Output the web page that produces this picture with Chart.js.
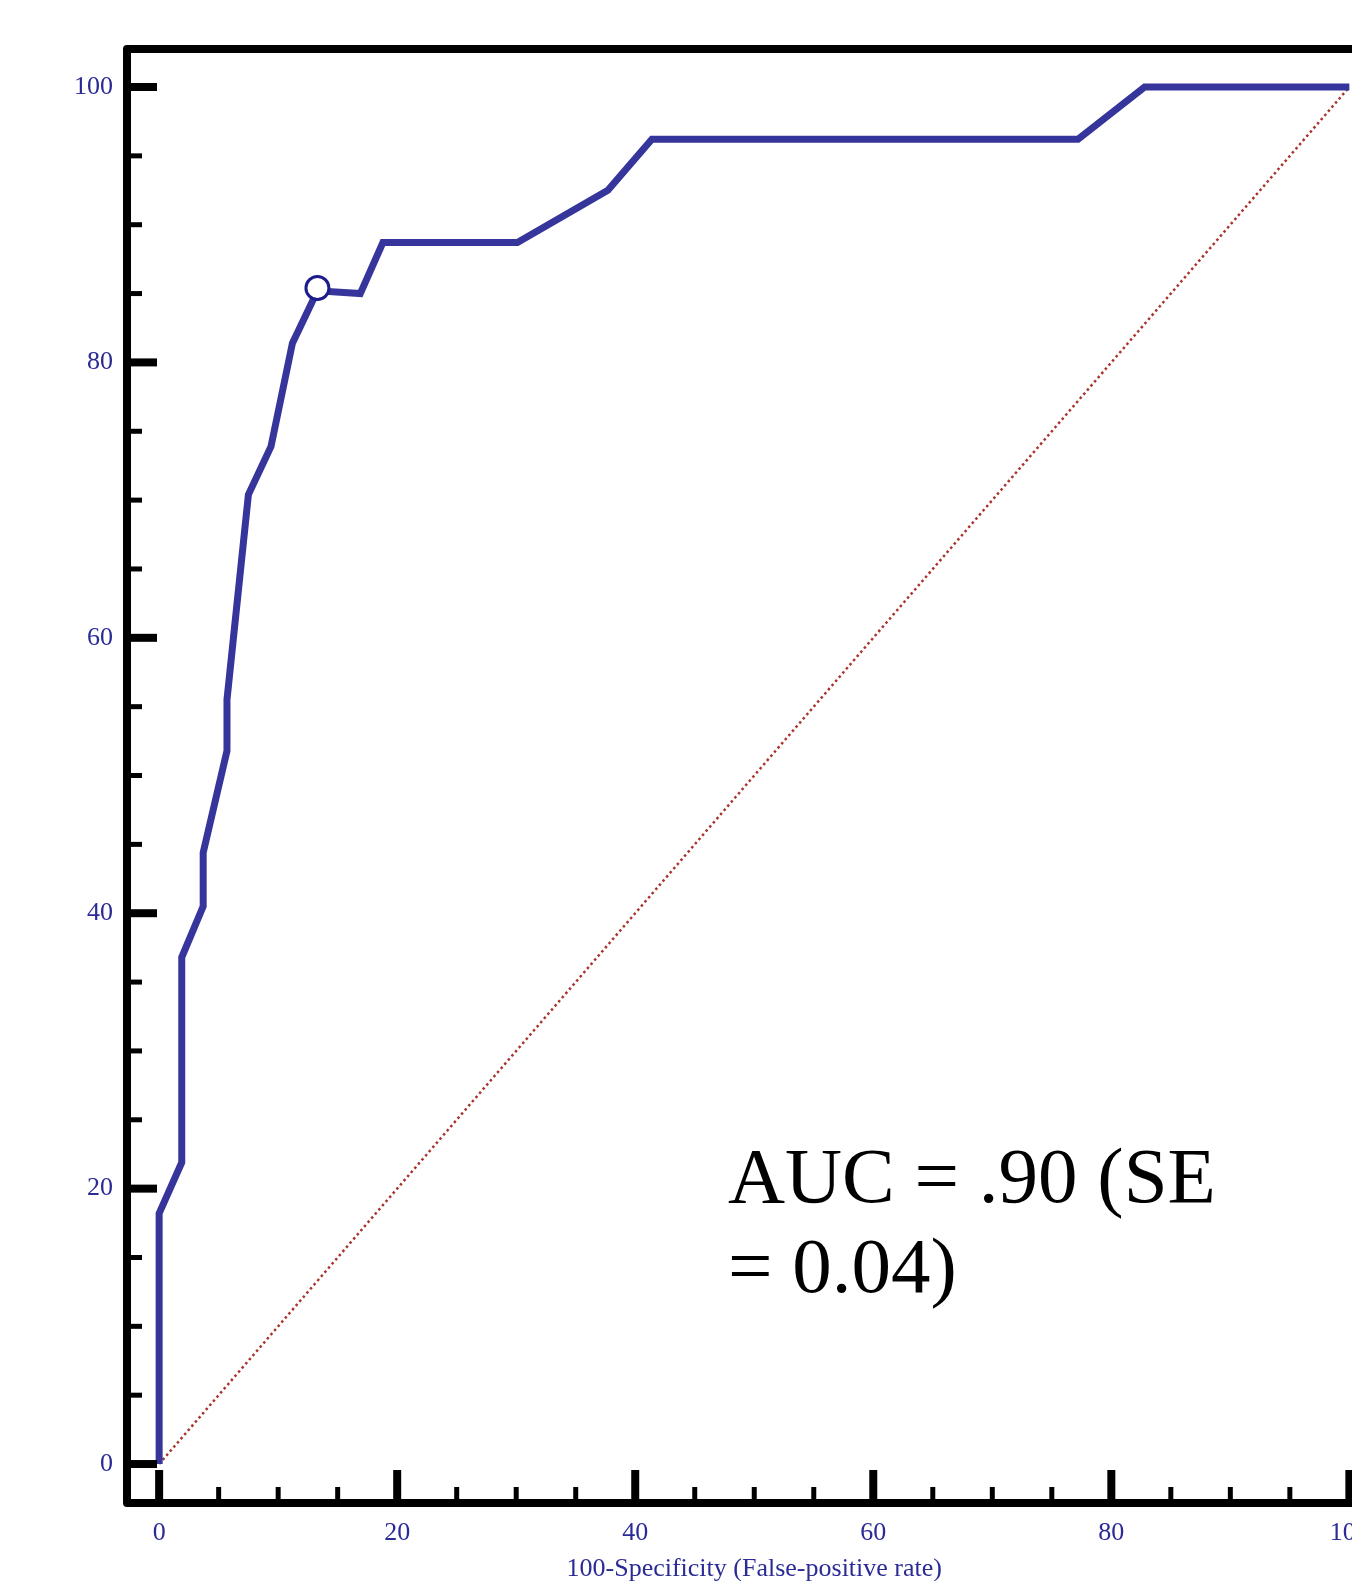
<!DOCTYPE html>
<html>
<head>
<meta charset="utf-8">
<script src="https://cdn.jsdelivr.net/npm/chart.js@4"></script>
<style>
    html, body {
        margin: 0;
        padding: 0;
        background: #fff;
        overflow: hidden;
        width: 1352px;
        height: 1581px;
    }
    #wrap {
        position: absolute;
        left: 0;
        top: 0;
        width: 1396px;
        height: 1600px;
    }
    #auc {
        position: absolute;
        left: 728px;
        top: 1131px;
        font-family: "Liberation Serif", serif;
        font-size: 79px;
        line-height: 90px;
        color: #000;
        white-space: nowrap;
    }
</style>
</head>
<body>
<div id="wrap"><canvas id="rocChart"></canvas></div>
<div id="auc">AUC = .90 (SE<br>= 0.04)</div>

<script>
// ROC curve (100-specificity vs sensitivity)
var rocX = [0, 0, 1.9, 1.9, 3.7, 3.7, 5.7, 5.7, 7.5, 9.4, 11.2, 13.3, 16.9, 18.8, 30.1, 37.7, 41.4, 77.2, 82.8, 100];
var rocY = [0, 18.2, 21.9, 36.8, 40.5, 44.4, 51.8, 55.5, 70.4, 73.9, 81.4, 85.2, 85.0, 88.7, 88.7, 92.5, 96.2, 96.2, 100, 100];

// optimal cut-off marker
var cutX = [13.3];
var cutY = [85.4];

// reference diagonal
var diagX = [0, 100];
var diagY = [0, 100];

// axes
var xTickLabels = [0, 20, 40, 60, 80, 100];
var yTickLabels = [0, 20, 40, 60, 80, 100];
var minorStep = 5;
var xTitle = "100-Specificity (False-positive rate)";

var labelBlue = "#2b2b96";
var lineBlue = "#35359b";

function toPoints(xs, ys) {
    return xs.map(function (x, i) {
        return {x: x, y: ys[i]};
    });
}

// frame + inward tick marks
var frameTicks = {
    id: "frameTicks",
    afterDraw: function (chart) {
        var ctx = chart.ctx;
        var area = chart.chartArea;
        var xs = chart.scales.x;
        var ys = chart.scales.y;
        ctx.save();
        ctx.strokeStyle = "#000";
        ctx.lineCap = "butt";

        // y ticks
        for (var v = 0; v <= 100; v += minorStep) {
            var major = yTickLabels.indexOf(v) >= 0;
            var py = ys.getPixelForValue(v);
            ctx.lineWidth = major ? 8 : 5;
            ctx.beginPath();
            ctx.moveTo(area.left, py);
            ctx.lineTo(area.left + (major ? 30 : 15), py);
            ctx.stroke();
        }
        // x ticks
        for (var u = 0; u <= 100; u += minorStep) {
            var majorX = xTickLabels.indexOf(u) >= 0;
            var px = xs.getPixelForValue(u);
            ctx.lineWidth = majorX ? 8 : 5;
            ctx.beginPath();
            ctx.moveTo(px, area.bottom);
            ctx.lineTo(px, area.bottom - (majorX ? 33 : 16));
            ctx.stroke();
        }

        // box
        ctx.lineWidth = 8;
        ctx.lineJoin = "round";
        ctx.strokeRect(area.left, area.top, area.right - area.left, area.bottom - area.top);
        ctx.restore();
    }
};

Chart.defaults.font.family = "'Liberation Serif', serif";

var ctx = document.getElementById("rocChart").getContext("2d");
var rocChart = new Chart(ctx, {
    type: "scatter",
    data: {
        datasets: [
            {
                label: "cut-off",
                data: toPoints(cutX, cutY),
                pointRadius: 11.5,
                pointHoverRadius: 11.5,
                pointBackgroundColor: "#fff",
                pointBorderColor: "#1c1c8a",
                pointBorderWidth: 3,
                showLine: false,
                order: 0
            },
            {
                label: "ROC",
                data: toPoints(rocX, rocY),
                showLine: true,
                borderColor: lineBlue,
                borderWidth: 7,
                borderJoinStyle: "miter",
                borderCapStyle: "butt",
                pointRadius: 0,
                tension: 0,
                order: 1
            },
            {
                label: "diagonal",
                data: toPoints(diagX, diagY),
                showLine: true,
                borderColor: "#a8342c",
                borderWidth: 2.5,
                borderDash: [2.5, 3],
                pointRadius: 0,
                order: 2
            }
        ]
    },
    options: {
        responsive: true,
        maintainAspectRatio: false,
        animation: false,
        events: [],
        layout: {
            padding: {left: 0, right: 0, top: 49, bottom: 15}
        },
        plugins: {
            legend: {display: false},
            tooltip: {enabled: false}
        },
        scales: {
            x: {
                type: "linear",
                min: -2.7,
                max: 102.7,
                afterBuildTicks: function (scale) {
                    scale.ticks = xTickLabels.map(function (v) {
                        return {value: v};
                    });
                },
                afterFit: function (scale) {
                    scale.height = 82;
                },
                grid: {display: false, drawTicks: false},
                border: {display: false},
                ticks: {
                    color: labelBlue,
                    font: {size: 26},
                    padding: 15,
                    maxRotation: 0,
                    autoSkip: false
                },
                title: {
                    display: true,
                    text: xTitle,
                    color: labelBlue,
                    font: {size: 26},
                    padding: {top: 0, bottom: 0}
                }
            },
            y: {
                type: "linear",
                min: -2.83,
                max: 102.76,
                afterBuildTicks: function (scale) {
                    scale.ticks = yTickLabels.map(function (v) {
                        return {value: v};
                    });
                },
                afterFit: function (scale) {
                    scale.width = 127;
                },
                grid: {display: false, drawTicks: false},
                border: {display: false},
                ticks: {
                    color: labelBlue,
                    font: {size: 26},
                    padding: 14,
                    autoSkip: false
                }
            }
        }
    },
    plugins: [frameTicks]
});
</script>
</body>
</html>
